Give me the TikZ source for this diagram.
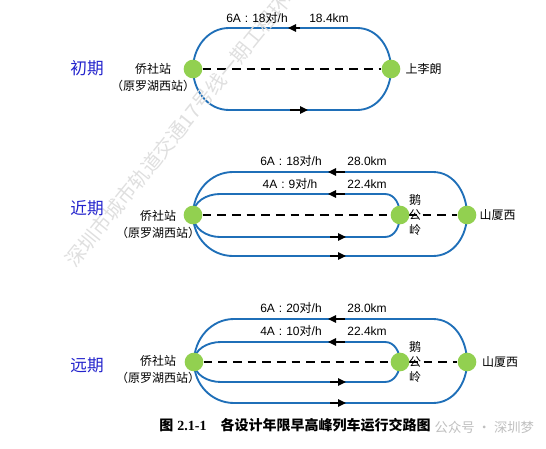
\documentclass[tikz,border=0pt]{standalone}
\usepackage{fontspec}
\setmainfont{Liberation Sans}
\newfontfamily\serifb{Liberation Serif}
\newfontfamily\cjk{Noto Sans CJK SC}
\usetikzlibrary{arrows.meta, positioning, calc, backgrounds}

\definecolor{trackblue}{HTML}{1F6FB8}
\definecolor{stagreen}{HTML}{92D050}
\definecolor{phaseblue}{HTML}{2323CC}

\begin{document}
\begin{tikzpicture}[
    x=0.75pt, y=0.75pt,
    station/.style={circle, fill=stagreen, inner sep=0pt, minimum size=14pt},
    track/.style={draw=trackblue, line width=1.4pt},
    mainline/.style={draw=black, line width=1.1pt, dash pattern=on 6.5pt off 4.5pt},
    flow/.style={draw=black, line width=1.3pt, -{Triangle[length=6pt, width=5.5pt]}},
    phase/.style={text=phaseblue, font=\cjk\fontsize{12.5}{14}\selectfont},
    stname/.style={font=\cjk\fontsize{9}{12.75}\selectfont, align=center, inner sep=1pt},
    vname/.style={font=\cjk\fontsize{9}{11.25}\selectfont, align=center, inner sep=1pt},
    lbl/.style={font=\fontsize{9}{11}\selectfont, inner sep=1pt}
]
\useasboundingbox (0,0) rectangle (546,-449);

% Watermark
\node[rotate=51, anchor=west, text=gray!25, font=\cjk\fontsize{15}{15}\selectfont] (wm) at (66.7,-267.8) {深圳市城市轨道交通17号线一期工程环境};

% Nodes
\node[station] (qs1) at (193,-69) {};
\node[station] (sll1) at (391,-69) {};
\node[station] (qs2) at (193,-215) {};
\node[station] (egl2) at (400,-215) {};
\node[station] (sxx2) at (467,-215) {};
\node[station] (qs3) at (194,-362) {};
\node[station] (egl3) at (400,-362) {};
\node[station] (sxx3) at (467,-362) {};

% Tracks
\begin{scope}[on background layer]
\draw[track] (qs1.center) to[out=90,in=180] ($(qs1)+(36,41)$) -- ($(sll1)+(-34,41)$) to[out=0,in=90] (sll1.center)
    to[out=-90,in=0] ($(sll1)+(-34,-41)$) -- ($(qs1)+(36,-41)$) to[out=180,in=-90] (qs1.center);
\draw[mainline] (qs1) -- (sll1);

\draw[track] (qs2.center) to[out=90,in=180] ($(qs2)+(40,43)$) -- ($(sxx2)+(-34,43)$) to[out=0,in=90] (sxx2.center)
    to[out=-90,in=0] ($(sxx2)+(-34,-41)$) -- ($(qs2)+(40,-41)$) to[out=180,in=-90] (qs2.center);
\draw[track] (qs2.center) to[out=90,in=180] ($(qs2)+(27,21)$) -- ($(egl2)+(-15,21)$) to[out=0,in=90] (egl2.center)
    to[out=-90,in=0] ($(egl2)+(-15,-22)$) -- ($(qs2)+(27,-22)$) to[out=180,in=-90] (qs2.center);
\draw[mainline] (qs2) -- (sxx2);

\draw[track] (qs3.center) to[out=90,in=180] ($(qs3)+(40,43)$) -- ($(sxx3)+(-34,43)$) to[out=0,in=90] (sxx3.center)
    to[out=-90,in=0] ($(sxx3)+(-34,-41)$) -- ($(qs3)+(40,-41)$) to[out=180,in=-90] (qs3.center);
\draw[track] (qs3.center) to[out=90,in=180] ($(qs3)+(27,20)$) -- ($(egl3)+(-15,20)$) to[out=0,in=90] (egl3.center)
    to[out=-90,in=0] ($(egl3)+(-15,-20)$) -- ($(qs3)+(27,-20)$) to[out=180,in=-90] (qs3.center);
\draw[mainline] (qs3) -- (sxx3);
\end{scope}

% Arrows
\draw[flow] ($(qs1)+(107,41)$) -- ($(qs1)+(95,41)$);
\draw[flow] ($(qs1)+(97,-41)$) -- ($(qs1)+(115,-41)$);
\draw[flow] ($(qs2)+(152,43)$) -- ($(qs2)+(135,43)$);
\draw[flow] ($(qs2)+(152,21)$) -- ($(qs2)+(135,21)$);
\draw[flow] ($(qs2)+(137,-22)$) -- ($(qs2)+(153,-22)$);
\draw[flow] ($(qs2)+(137,-41)$) -- ($(qs2)+(153,-41)$);
\draw[flow] ($(qs3)+(151,43)$) -- ($(qs3)+(134,43)$);
\draw[flow] ($(qs3)+(151,20)$) -- ($(qs3)+(134,20)$);
\draw[flow] ($(qs3)+(136,-20)$) -- ($(qs3)+(152,-20)$);
\draw[flow] ($(qs3)+(136,-41)$) -- ($(qs3)+(152,-41)$);

% Labels
\node[phase] (p1) at (87,-68) {初期};
\node[phase] (p2) at (87,-208) {近期};
\node[phase] (p3) at (87,-365) {远期};

\node[stname] (qs1-name) at (153,-78) {侨社站\\（原罗湖西站）};
\node[stname, right=2.5pt of sll1] (sll1-name) {上李朗};
\node[stname] (qs2-name) at (158,-225) {侨社站\\（原罗湖西站）};
\node[vname] (egl2-name) at (415,-215) {鹅\\公\\岭};
\node[stname, right=1pt of sxx2] (sxx2-name) {山厦西};
\node[stname] (qs3-name) at (158,-370) {侨社站\\（原罗湖西站）};
\node[vname] (egl3-name) at (415,-362) {鹅\\公\\岭};
\node[stname, right=3pt of sxx3] (sxx3-name) {山厦西};

\node[lbl] (f1) at (257,-18) {6A\hspace{3pt}:\hspace{3pt}18{\cjk 对}/h};
\node[lbl] (d1) at (329,-18) {18.4km};
\node[lbl] (f2o) at (291,-161) {6A\hspace{3pt}:\hspace{3pt}18{\cjk 对}/h};
\node[lbl] (d2o) at (367,-161) {28.0km};
\node[lbl] (f2i) at (290,-184) {4A\hspace{3pt}:\hspace{3pt}9{\cjk 对}/h};
\node[lbl] (d2i) at (367,-184) {22.4km};
\node[lbl] (f3o) at (291,-308) {6A\hspace{3pt}:\hspace{3pt}20{\cjk 对}/h};
\node[lbl] (d3o) at (367,-308) {28.0km};
\node[lbl] (f3i) at (291,-331) {4A\hspace{3pt}:\hspace{3pt}10{\cjk 对}/h};
\node[lbl] (d3i) at (367,-331) {22.4km};

% Caption
\node[font=\fontsize{10.5}{12}\selectfont\bfseries] (cap) at (295,-425) {{\cjk 图} {\serifb 2.1-1}\quad{\cjk 各设计年限早高峰列车运行交路图}};
\node[text=gray!50, font=\cjk\fontsize{10}{12}\selectfont, anchor=west] (wm2) at (430,-427) {公众号 · 深圳梦};
\end{tikzpicture}
\end{document}
